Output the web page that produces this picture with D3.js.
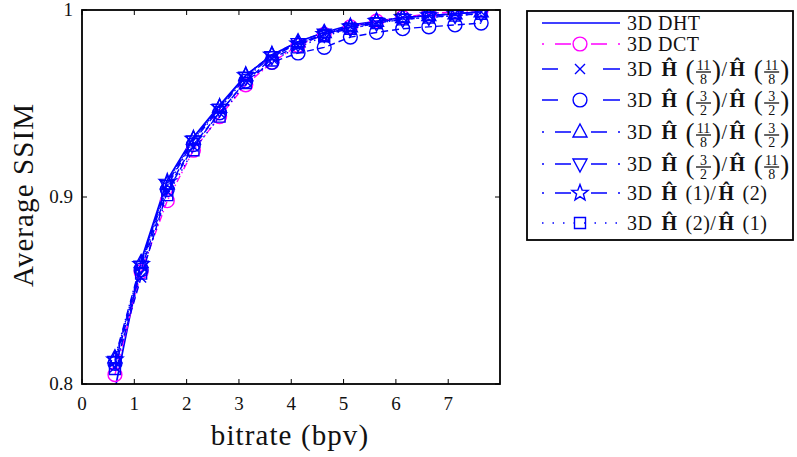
<!DOCTYPE html>
<html>
<head>
<meta charset="utf-8">
<script src="https://cdn.jsdelivr.net/npm/d3@7"></script>
<style>
  body { margin: 0; background: #fff; }
  svg text { font-family: 'Liberation Serif', 'Times New Roman', 'DejaVu Serif', serif; fill: #111; }
</style>
</head>
<body>
<svg id="chart" width="797" height="457"></svg>
<script>
// DATA
const bitrate = [0.63, 1.13, 1.63, 2.13, 2.63, 3.13, 3.63, 4.13, 4.63, 5.13, 5.63, 6.13, 6.63, 7.13, 7.63];

const dht      = [0.797, 0.866, 0.909, 0.932, 0.949, 0.965, 0.976, 0.983, 0.988, 0.992, 0.994, 0.996, 0.997, 0.998, 0.999];
const dct      = [0.805, 0.860, 0.898, 0.925, 0.943, 0.960, 0.972, 0.981, 0.987, 0.991, 0.994, 0.996, 0.998, 0.999, 1.000];
const h118h118 = [0.809, 0.857, 0.903, 0.927, 0.945, 0.962, 0.974, 0.981, 0.987, 0.991, 0.993, 0.996, 0.997, 0.998, 0.999];
const h32h32   = [0.811, 0.861, 0.904, 0.928, 0.945, 0.962, 0.972, 0.977, 0.980, 0.9855, 0.988, 0.990, 0.991, 0.992, 0.993];
const h118h32  = [0.814, 0.865, 0.907, 0.931, 0.948, 0.965, 0.976, 0.983, 0.988, 0.991, 0.994, 0.996, 0.997, 0.998, 0.999];
const h32h118  = [0.812, 0.863, 0.906, 0.930, 0.947, 0.964, 0.975, 0.982, 0.987, 0.990, 0.993, 0.995, 0.996, 0.997, 0.998];
const h1h2     = [0.813, 0.864, 0.908, 0.931, 0.948, 0.965, 0.976, 0.982, 0.987, 0.991, 0.994, 0.996, 0.997, 0.998, 0.999];
const h2h1     = [0.808, 0.859, 0.901, 0.925, 0.943, 0.961, 0.973, 0.980, 0.986, 0.990, 0.993, 0.995, 0.996, 0.997, 0.998];

const xTicks = [0, 1, 2, 3, 4, 5, 6, 7];
const yTicks = [0.8, 0.9, 1];
const yTickLabels = ["0.8", "0.9", "1"];

// legend labels: plain name, or pair of arguments for H^(a)/H^(b)
const series = [
  { name: "3D DHT", values: dht, color: "#0000ff", style: "solid", marker: null },
  { name: "3D DCT", values: dct, color: "#ff00ff", style: "dashdot", marker: "circle" },
  { args: [["11", "8"], ["11", "8"]], values: h118h118, color: "#0000ff", style: "dashed", marker: "x" },
  { args: [["3", "2"], ["3", "2"]], values: h32h32, color: "#0000ff", style: "dashed", marker: "circle" },
  { args: [["11", "8"], ["3", "2"]], values: h118h32, color: "#0000ff", style: "dashdot", marker: "triangle" },
  { args: [["3", "2"], ["11", "8"]], values: h32h118, color: "#0000ff", style: "dashdot", marker: "triangleDown" },
  { args: ["1", "2"], values: h1h2, color: "#0000ff", style: "dashdot", marker: "star" },
  { args: ["2", "1"], values: h2h1, color: "#0000ff", style: "dotted", marker: "square" }
];

const plotDash = { solid: null, dashed: "7,4", dashdot: "7,3,1.5,3", dotted: "1.5,3.5" };
const legendDash = { solid: null, dashed: "16,45,17", dashdot: "2,11,16,20,16,11,2,40", dotted: "1.5,9" };

// LAYOUT
const svg = d3.select("#chart");
const plot = { left: 82, right: 500, top: 10, bottom: 384 };

const xScale = d3.scaleLinear().domain([0, 7.99]).range([plot.left, plot.right]);
const yScale = d3.scaleLinear().domain([0.8, 1]).range([plot.bottom, plot.top]);

svg.append("defs").append("clipPath").attr("id", "clip")
  .append("rect")
  .attr("x", plot.left).attr("y", plot.top)
  .attr("width", plot.right - plot.left).attr("height", plot.bottom - plot.top);

// markers
function markerPath(type) {
  switch (type) {
    case "circle": return d3.symbol(d3.symbolCircle, 150)();
    case "x": return "M-5,-5L5,5M-5,5L5,-5";
    case "triangle": return "M0,-8L7,5L-7,5Z";
    case "triangleDown": return "M0,8L7,-5L-7,-5Z";
    case "square": return "M-5.5,-5.5H5.5V5.5H-5.5Z";
    case "star": {
      const pts = [];
      for (let i = 0; i < 10; i++) {
        const r = i % 2 === 0 ? 8.5 : 3.6;
        const a = -Math.PI / 2 + i * Math.PI / 5;
        pts.push([r * Math.cos(a), r * Math.sin(a)]);
      }
      return "M" + pts.map(p => p.join(",")).join("L") + "Z";
    }
  }
  return null;
}

// -----------------------------------------------------------------------------
// LINES & POINTS
// -----------------------------------------------------------------------------
const line = d3.line()
  .x((d, i) => xScale(bitrate[i]))
  .y(d => yScale(d));

const plotArea = svg.append("g").attr("clip-path", "url(#clip)");

series.forEach(s => {
  plotArea.append("path")
    .attr("d", line(s.values))
    .attr("fill", "none")
    .attr("stroke", s.color)
    .attr("stroke-width", s.style === "solid" ? 1.7 : 1.4)
    .attr("stroke-dasharray", plotDash[s.style]);

  if (s.marker) {
    plotArea.selectAll(null)
      .data(s.values)
      .enter()
      .append("path")
      .attr("d", markerPath(s.marker))
      .attr("transform", (d, i) => `translate(${xScale(bitrate[i])},${yScale(d)})`)
      .attr("fill", "none")
      .attr("stroke", s.color)
      .attr("stroke-width", 1.4);
  }
});

// -----------------------------------------------------------------------------
// AXES (box with inward ticks)
// -----------------------------------------------------------------------------
const axes = svg.append("g");
axes.append("rect")
  .attr("x", plot.left).attr("y", plot.top)
  .attr("width", plot.right - plot.left).attr("height", plot.bottom - plot.top)
  .attr("fill", "none").attr("stroke", "#000").attr("stroke-width", 1.8);

xTicks.forEach(t => {
  const x = xScale(t);
  axes.append("line").attr("x1", x).attr("x2", x).attr("y1", plot.bottom).attr("y2", plot.bottom - 5)
    .attr("stroke", "#000").attr("stroke-width", 1);
  axes.append("line").attr("x1", x).attr("x2", x).attr("y1", plot.top).attr("y2", plot.top + 5)
    .attr("stroke", "#000").attr("stroke-width", 1);
  axes.append("text").attr("x", x).attr("y", 410)
    .attr("text-anchor", "middle").style("font-size", "19px").text(t);
});

yTicks.forEach((t, i) => {
  const y = yScale(t);
  axes.append("line").attr("x1", plot.left).attr("x2", plot.left + 5).attr("y1", y).attr("y2", y)
    .attr("stroke", "#000").attr("stroke-width", 1);
  axes.append("line").attr("x1", plot.right).attr("x2", plot.right - 5).attr("y1", y).attr("y2", y)
    .attr("stroke", "#000").attr("stroke-width", 1);
  axes.append("text").attr("x", 73).attr("y", y + 6)
    .attr("text-anchor", "end").style("font-size", "19px").text(yTickLabels[i]);
});

svg.append("text")
  .attr("x", 290).attr("y", 445)
  .attr("text-anchor", "middle").style("font-size", "29px")
  .style("letter-spacing", "1.1px")
  .text("bitrate (bpv)");

svg.append("text")
  .attr("transform", "translate(33,195) rotate(-90)")
  .attr("text-anchor", "middle").style("font-size", "29px")
  .style("letter-spacing", "1.1px")
  .text("Average SSIM");

// -----------------------------------------------------------------------------
// LEGEND
// -----------------------------------------------------------------------------
const legendRows = [23, 44, 69, 100, 132, 164, 193, 223];
const legend = svg.append("g");
legend.append("rect")
  .attr("x", 527).attr("y", 11).attr("width", 266).attr("height", 229)
  .attr("fill", "#fff").attr("stroke", "#000").attr("stroke-width", 1.8);

function addText(g, x, y, str, size, bold) {
  const t = g.append("text").attr("x", x).attr("y", y)
    .style("font-size", size + "px")
    .style("font-weight", bold ? "bold" : "normal")
    .style("letter-spacing", "0.5px")
    .text(str);
  return x + t.node().getComputedTextLength();
}

function addArg(g, x, y, arg) {
  if (typeof arg === "string") {
    x = addText(g, x, y, "(", 20);
    x = addText(g, x, y, arg, 20);
    return addText(g, x, y, ")", 20);
  }
  // stacked fraction in big parentheses
  x = addText(g, x, y + 3, "(", 27) + 1;
  const w = 15;
  g.append("text").attr("x", x + w / 2).attr("y", y - 6)
    .attr("text-anchor", "middle").style("font-size", "14px").text(arg[0]);
  g.append("line").attr("x1", x).attr("x2", x + w)
    .attr("y1", y - 4).attr("y2", y - 4)
    .attr("stroke", "#111").attr("stroke-width", 1.3);
  g.append("text").attr("x", x + w / 2).attr("y", y + 8)
    .attr("text-anchor", "middle").style("font-size", "14px").text(arg[1]);
  x += w + 1;
  return addText(g, x, y + 3, ")", 27);
}

series.forEach((s, i) => {
  const y = legendRows[i];
  const g = legend.append("g");
  g.append("line")
    .attr("x1", 542).attr("x2", 620).attr("y1", y).attr("y2", y)
    .attr("stroke", s.color).attr("stroke-width", 1.4)
    .attr("stroke-dasharray", legendDash[s.style]);
  if (s.marker) {
    g.append("path").attr("d", markerPath(s.marker))
      .attr("transform", `translate(580,${y})`)
      .attr("fill", "none").attr("stroke", s.color).attr("stroke-width", 1.4);
  }
  const ty = y + 7;
  if (s.name) {
    addText(g, 627, ty, s.name, 20);
  } else {
    let x = addText(g, 627, ty, "3D", 20) + 9;
    x = addText(g, x, ty, "Ĥ", 20, true) + 8;
    x = addArg(g, x, ty, s.args[0]);
    x = addText(g, x, ty, "/", 20) + 2;
    x = addText(g, x, ty, "Ĥ", 20, true) + 8;
    addArg(g, x, ty, s.args[1]);
  }
});
</script>
</body>
</html>
